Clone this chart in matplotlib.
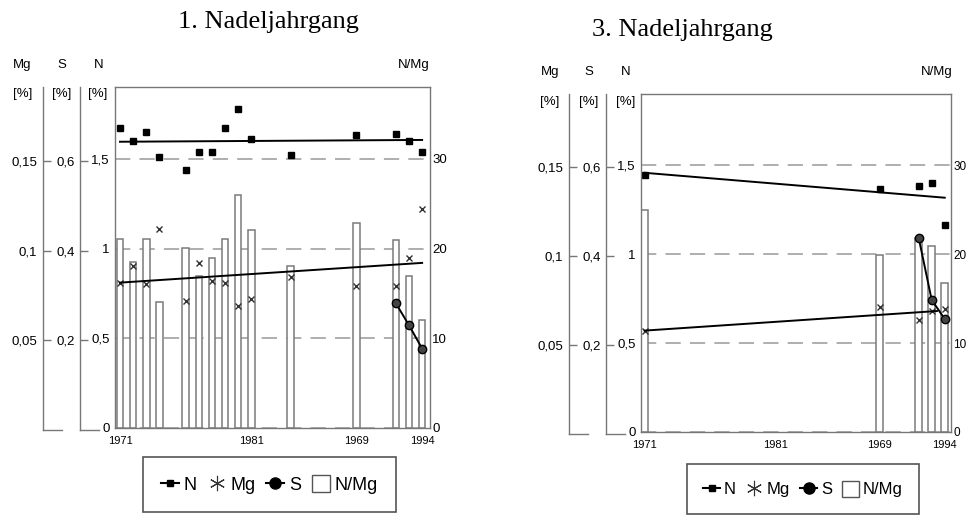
import matplotlib
matplotlib.use('Agg')
import matplotlib.pyplot as plt
from matplotlib.lines import Line2D
from matplotlib.patches import Patch

plt.rcParams['font.family'] = ['Liberation Sans', 'DejaVu Sans']

# --- data ---
# 1. Nadeljahrgang
years_1 = [1971, 1972, 1973, 1974, 1976, 1977, 1978, 1979, 1980, 1981, 1984, 1989, 1992, 1993, 1994]
n_1 = [1.67, 1.60, 1.65, 1.51, 1.44, 1.54, 1.54, 1.67, 1.78, 1.61, 1.52, 1.63, 1.64, 1.60, 1.54]
mg_1 = [0.081, 0.090, 0.080, 0.111, 0.071, 0.092, 0.082, 0.081, 0.068, 0.072, 0.084, 0.079, 0.079, 0.095, 0.122]
nmg_1 = [21.1, 18.5, 21.1, 14.0, 20.1, 16.9, 19.0, 21.1, 26.0, 22.1, 18.0, 22.9, 20.9, 16.9, 12.0]
s_years_1 = [1992, 1993, 1994]
s_1 = [0.278, 0.229, 0.177]
trend_years_1 = [1971, 1994]
n_trend_1 = [1.595, 1.605]
mg_trend_1 = [0.081, 0.092]

# 3. Nadeljahrgang
years_3 = [1971, 1989, 1992, 1993, 1994]
n_3 = [1.444, 1.364, 1.382, 1.40, 1.164]
mg_3 = [0.057, 0.070, 0.063, 0.068, 0.069]
nmg_3 = [25.0, 19.9, 21.8, 20.9, 16.8]
s_years_3 = [1992, 1993, 1994]
s_3 = [0.437, 0.297, 0.254]
trend_years_3 = [1971, 1994]
n_trend_3 = [1.457, 1.317]
mg_trend_years_3 = [1971, 1993.4]
mg_trend_3 = [0.057, 0.068]

# axis ticks / labels
n_ticks = [0, 0.5, 1, 1.5]
n_labels = ['0', '0,5', '1', '1,5']
s_ticks = [0.2, 0.4, 0.6]
s_labels = ['0,2', '0,4', '0,6']
mg_ticks = [0.05, 0.1, 0.15]
mg_labels = ['0,05', '0,1', '0,15']
nmg_ticks = [0, 10, 20, 30]
nmg_labels = ['0', '10', '20', '30']
x_ticks = [1971, 1981, 1989, 1994]
x_labels = ['1971', '1981', '1969', '1994']

W, H = 966, 519
fig = plt.figure(figsize=(W / 100, H / 100), dpi=100)
GRAY = '#777777'


def fx(x):
    return x / W


def fy(y):
    return 1 - y / H


def spine_axis(x, top, bottom, ticks, labels, ylim):
    sa = fig.add_axes([fx(x), fy(bottom), fx(19), (bottom - top) / H])
    sa.patch.set_visible(False)
    sa.set_ylim(*ylim)
    sa.set_xlim(0, 1)
    sa.spines['top'].set_visible(False)
    sa.spines['right'].set_visible(False)
    for s in ['left', 'bottom']:
        sa.spines[s].set_color(GRAY)
        sa.spines[s].set_linewidth(1.0)
    sa.set_xticks([])
    sa.set_yticks(ticks, labels)
    sa.tick_params(axis='y', direction='in', length=6, width=1, color=GRAY,
                   pad=4, labelsize=9.5)
    return sa


def panel(title, box, xlim, mg_x, s_x, years, n, mg, nmg, s_years, s,
          trend_years, n_trend, mg_trend_years, mg_trend, hdr, right_size):
    left, top, right, bottom = box
    ax = fig.add_axes([fx(left), fy(bottom), fx(right - left), (bottom - top) / H])
    nmg_ax = ax.twinx()
    mg_ax = ax.twinx()
    s_ax = ax.twinx()
    nmg_ax.set_zorder(0)
    ax.set_zorder(1)
    mg_ax.set_zorder(2)
    s_ax.set_zorder(3)
    ax.patch.set_visible(False)
    nmg_ax.patch.set_visible(True)
    nmg_ax.patch.set_facecolor('white')

    # N/Mg bars with the dashed reference lines behind them
    nmg_ax.set_axisbelow(True)
    nmg_ax.bar(years, nmg, width=0.5, facecolor='white', edgecolor='#7a7a7a',
               linewidth=1.1, zorder=2)
    nmg_ax.set_ylim(0, 38)
    nmg_ax.set_yticks(nmg_ticks, nmg_labels)
    nmg_ax.yaxis.grid(True, color='#999999', linestyle=(0, (10, 6)), linewidth=1.1)
    nmg_ax.tick_params(axis='y', length=0, pad=1.5, labelsize=right_size)

    # N
    ax.plot(years, n, 's', color='k', ms=4)
    ax.plot(trend_years, n_trend, color='k', lw=1.4)
    ax.set_ylim(0, 1.9)
    ax.set_xlim(*xlim)
    ax.set_yticks(n_ticks, n_labels)
    ax.tick_params(axis='y', length=0, pad=4, labelsize=9.5)
    ax.set_xticks(x_ticks, x_labels)
    ax.tick_params(axis='x', length=0, pad=6, labelsize=8)
    for sp in ax.spines.values():
        sp.set_color(GRAY)
        sp.set_linewidth(1.0)

    # Mg
    mg_ax.plot(years, mg, 'x', color='#333333', ms=5, mew=1.0)
    mg_ax.plot(mg_trend_years, mg_trend, color='k', lw=1.4)
    mg_ax.set_ylim(0, 0.19)

    # S
    s_ax.plot(s_years, s, 'o-', color='k', mfc='#444444', mec='k', ms=6, lw=1.4)
    s_ax.set_ylim(0, 0.76)

    for a in (nmg_ax, mg_ax, s_ax):
        for sp in a.spines.values():
            sp.set_visible(False)
    for a in (mg_ax, s_ax):
        a.set_yticks([])

    spine_axis(mg_x, top, bottom + 2, mg_ticks, mg_labels, (0, 0.19 * (bottom + 2 - top) / (bottom - top)))
    spine_axis(s_x, top, bottom + 2, s_ticks, s_labels, (0, 0.76 * (bottom + 2 - top) / (bottom - top)))

    # headers
    text, tx, ty = title
    fig.text(fx(tx), fy(ty), text, ha='center', va='center',
             family='Liberation Serif', size=19)
    for txt, hx, hy in hdr:
        fig.text(fx(hx), fy(hy), txt, ha='center', va='center', size=9.5)


panel(('1. Nadeljahrgang', 268, 22), (115, 87, 430, 428), (1970.62, 1994.6), 43, 80,
      years_1, n_1, mg_1, nmg_1, s_years_1, s_1,
      trend_years_1, n_trend_1, trend_years_1, mg_trend_1,
      [('Mg', 22, 65), ('S', 62, 65), ('N', 99, 65), ('N/Mg', 414, 65),
       ('[%]', 23, 94), ('[%]', 62, 94), ('[%]', 98, 94)], 9.5)

panel(('3. Nadeljahrgang', 682, 30), (641, 94, 951, 432), (1970.72, 1994.48), 569, 606,
      years_3, n_3, mg_3, nmg_3, s_years_3, s_3,
      trend_years_3, n_trend_3, mg_trend_years_3, mg_trend_3,
      [('Mg', 550, 72), ('S', 589, 72), ('N', 626, 72), ('N/Mg', 937, 72),
       ('[%]', 550, 102), ('[%]', 589, 102), ('[%]', 626, 102)], 8.5)

handles = [
    Line2D([0], [0], color='k', marker='s', ms=5, lw=1.5),
    Line2D([0], [0], color='#333333', marker=(6, 2, 0), ms=11, mew=0.8, lw=0),
    Line2D([0], [0], color='k', marker='o', ms=8, lw=1.5),
    Patch(facecolor='white', edgecolor='#555555', linewidth=1.0),
]
names = ['N', 'Mg', 'S', 'N/Mg']
for cx, cy, fs in [(269.5, 484.5, 13), (803, 489, 12)]:
    leg = fig.legend(handles, names, loc='center', bbox_to_anchor=(fx(cx), fy(cy)),
                     ncol=4, fontsize=fs, handlelength=1.0, handleheight=1.1,
                     handletextpad=0.25, columnspacing=0.6, borderpad=1.0,
                     fancybox=False, framealpha=1)
    leg.get_frame().set_edgecolor('#555555')
    leg.get_frame().set_linewidth(1.2)

fig.savefig('out.png', dpi=100)
